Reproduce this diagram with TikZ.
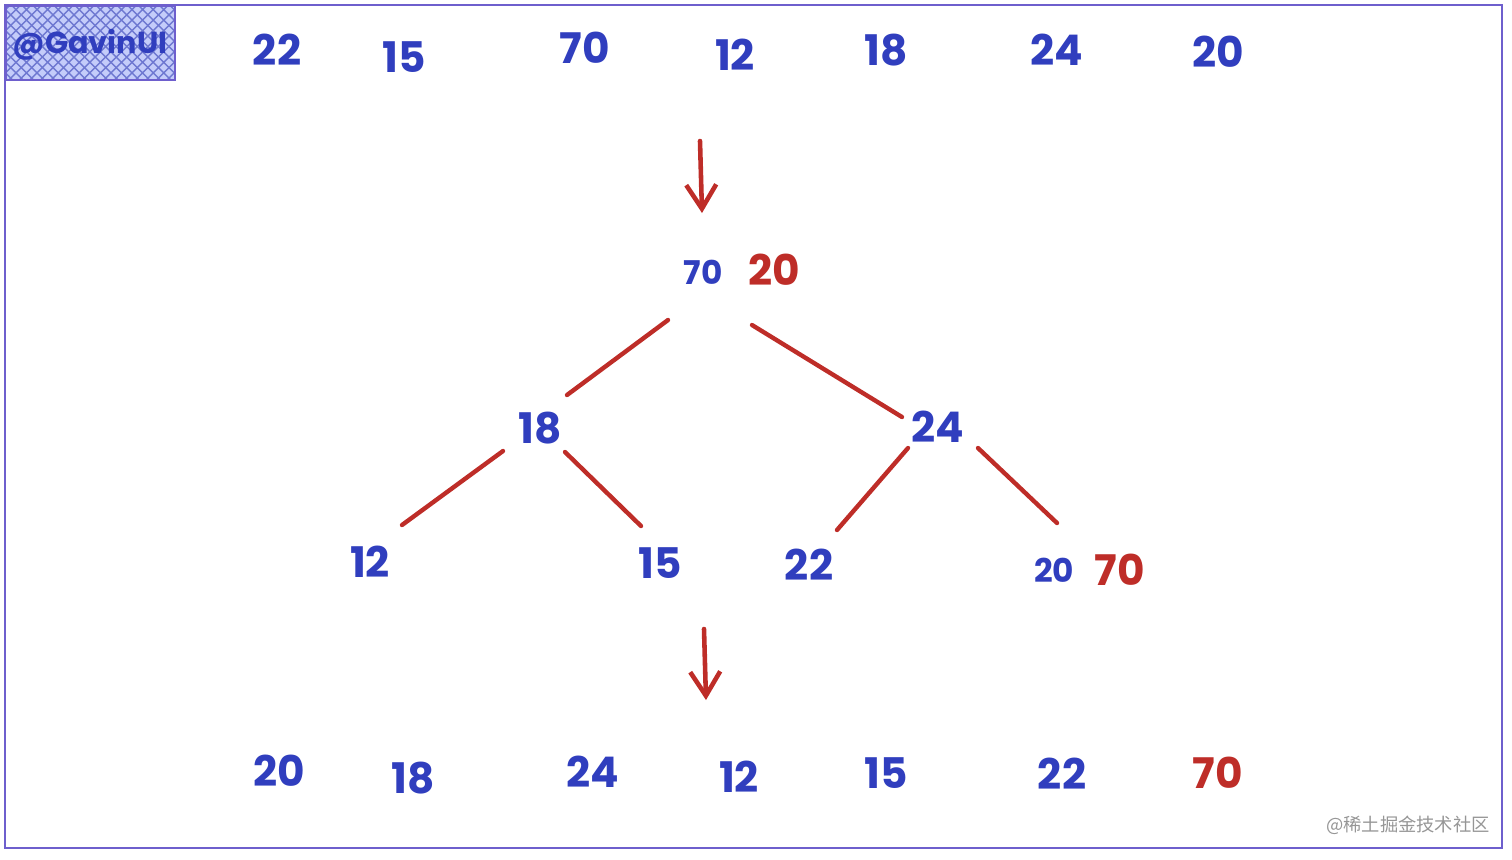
\documentclass[tikz,border=0pt]{standalone}
\usepackage{fontspec}
\setmainfont{Poppins}
\newfontfamily\cjkfont{Noto Sans CJK SC}
\usetikzlibrary{arrows.meta,patterns}
\definecolor{numblue}{RGB}{48,62,190}
\definecolor{numred}{RGB}{190,45,40}
\definecolor{frame}{RGB}{110,95,205}
\definecolor{badgefill}{RGB}{196,204,250}
\definecolor{wmgray}{RGB}{150,150,150}
\tikzset{
  num/.style={text=numblue,font=\fontsize{12}{14}\selectfont\bfseries,inner sep=0pt},
  numsmall/.style={text=numblue,font=\fontsize{9.3}{11}\selectfont\bfseries,inner sep=0pt},
  numred/.style={text=numred,font=\fontsize{12}{14}\selectfont\bfseries,inner sep=0pt},
  edge/.style={draw=numred,line width=1.25pt,line cap=round},
  darrow/.style={draw=numred,line width=1.3pt,line cap=round,-{Straight Barb[length=2.4mm,width=3mm,line width=1.3pt]}},
}
\begin{document}
\begin{tikzpicture}[x=0.01cm,y=-0.01cm]
\useasboundingbox (0,0) rectangle (1512,859);
% frame
\draw[frame,line width=0.7pt] (5,5) rectangle (1502,848);
% badge
\fill[badgefill] (6,6) rectangle (175,80);
\fill[pattern=crosshatch,pattern color=numblue!70] (6,6) rectangle (175,80);
\draw[frame,line width=0.8pt] (6,6) rectangle (175,80);
\node[text=numblue,font=\fontsize{8.6}{10}\selectfont\bfseries,inner sep=0pt] (badge) at (90,45) {@GavinUI};
% top row
\node[num] (t1) at (277,50) {22};
\node[num] (t2) at (404,57) {15};
\node[num] (t3) at (585,48) {70};
\node[num] (t4) at (735,55) {12};
\node[num] (t5) at (886,50) {18};
\node[num] (t6) at (1057,50) {24};
\node[num] (t7) at (1218,52) {20};
% arrow 1
\coordinate (a1s) at (700,141);
\coordinate (a1e) at (702,213);
\draw[darrow] (a1s) -- (a1e);
% tree
\node[numsmall] (r70) at (703,272) {70};
\node[numred] (r20) at (774,270) {20};
\node[num] (n18) at (540,428) {18};
\node[num] (n24) at (938,427) {24};
\node[num] (l12) at (370,562) {12};
\node[num] (l15) at (660,563) {15};
\node[num] (l22) at (809,565) {22};
\node[numsmall] (l20) at (1054,570) {20};
\node[numred] (l70) at (1120,570) {70};
\coordinate (e1a) at (668,320); \coordinate (e1b) at (567,395);
\coordinate (e2a) at (752,325); \coordinate (e2b) at (902,417);
\coordinate (e3a) at (503,451); \coordinate (e3b) at (402,525);
\coordinate (e4a) at (565,452); \coordinate (e4b) at (641,526);
\coordinate (e5a) at (908,448); \coordinate (e5b) at (837,530);
\coordinate (e6a) at (978,448); \coordinate (e6b) at (1057,523);
\draw[edge] (e1a) -- (e1b);
\draw[edge] (e2a) -- (e2b);
\draw[edge] (e3a) -- (e3b);
\draw[edge] (e4a) -- (e4b);
\draw[edge] (e5a) -- (e5b);
\draw[edge] (e6a) -- (e6b);
% arrow 2
\coordinate (a2s) at (704,629);
\coordinate (a2e) at (706,700);
\draw[darrow] (a2s) -- (a2e);
% bottom row
\node[num] (b1) at (279,771) {20};
\node[num] (b2) at (413,778) {18};
\node[num] (b3) at (593,772) {24};
\node[num] (b4) at (739,777) {12};
\node[num] (b5) at (886,773) {15};
\node[num] (b6) at (1062,774) {22};
\node[numred] (b7) at (1218,773) {70};
% watermark
\node[text=wmgray,font=\cjkfont\fontsize{5.2}{6}\selectfont,inner sep=0pt] (wm) at (1408,825) {@稀土掘金技术社区};
\end{tikzpicture}
\end{document}
